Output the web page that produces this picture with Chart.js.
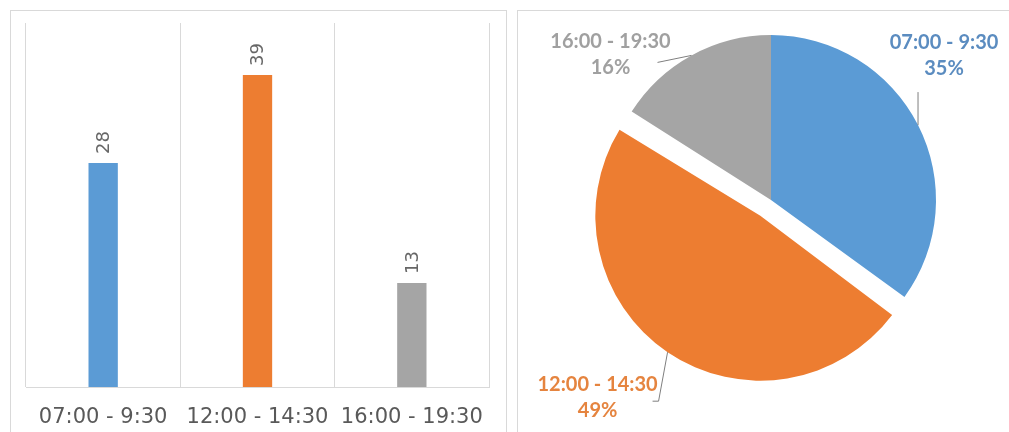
<!DOCTYPE html>
<html>
<head>
<meta charset="utf-8">
<script src="https://cdn.jsdelivr.net/npm/chart.js@4.4.1/dist/chart.umd.min.js"></script>
<style>
  html, body { margin: 0; padding: 0; background: #ffffff; width: 1009px; height: 432px; overflow: hidden; }
  .panel { position: absolute; border: 1px solid #d9d9d9; box-sizing: border-box; }
  #barWrap { left: 10px; top: 10px; width: 497px; height: 430px; }
  #pieWrap { left: 517px; top: 10px; width: 500px; height: 430px; }
  canvas { position: absolute; }
</style>
</head>
<body>
<div class="panel" id="barWrap"></div>
<div class="panel" id="pieWrap"></div>
<canvas id="bar" style="left:10px;top:10px;" width="496" height="422"></canvas>
<canvas id="pie" style="left:518px;top:10px;" width="491" height="422"></canvas>
<script>
// ---- data ----
const categories = ['07:00 - 9:30', '12:00 - 14:30', '16:00 - 19:30'];
const counts = [28, 39, 13];
const shares = [35, 49, 16];
const colors = ['#5B9BD5', '#ED7D31', '#A5A5A5'];
const labelColors = ['#5B8CC0', '#E5843F', '#A0A0A0'];

// ---- bar chart: rotated value labels ----
const barValueLabels = {
  id: 'barValueLabels',
  afterDatasetsDraw(chart) {
    const ctx = chart.ctx;
    const meta = chart.getDatasetMeta(0);
    ctx.save();
    ctx.fillStyle = '#666666';
    ctx.font = '18px "DejaVu Sans"';
    ctx.textAlign = 'left';
    ctx.textBaseline = 'middle';
    meta.data.forEach((el, i) => {
      ctx.save();
      ctx.translate(el.x, el.y - 9);
      ctx.rotate(-Math.PI / 2);
      ctx.fillText(String(counts[i]), 0, 1);
      ctx.restore();
    });
    ctx.restore();
  }
};

new Chart(document.getElementById('bar'), {
  type: 'bar',
  data: {
    labels: categories,
    datasets: [{
      data: counts,
      backgroundColor: colors,
      borderWidth: 0,
      categoryPercentage: 1,
      barPercentage: 0.19
    }]
  },
  options: {
    responsive: false,
    animation: false,
    layout: { padding: { left: 16, right: 17, top: 13, bottom: 0 } },
    plugins: { legend: { display: false }, tooltip: { enabled: false } },
    scales: {
      x: {
        grid: { color: '#d9d9d9', drawTicks: false, offset: true },
        border: { color: '#d9d9d9' },
        ticks: { color: '#595959', font: { family: 'DejaVu Sans', size: 21 }, padding: 18, maxRotation: 0 },
        afterFit: (s) => { s.height = 45; }
      },
      y: { display: false, min: 0, max: 45.5 }
    }
  },
  plugins: [barValueLabels]
});

// ---- pie chart ----
// Chart.js enlarges an offset arc's radius; keep the exploded slice the same size as the others.
function arcGeometry(arc) {
  const off = (arc.options.offset || 0) / 4;
  const fix = 1 - Math.sin(Math.min(Math.PI, arc.circumference || 0));
  return { shift: off, radiusAdd: off * fix };
}
const keepExplodedRadius = {
  id: 'keepExplodedRadius',
  afterDatasetsUpdate(chart) {
    const meta = chart.getDatasetMeta(0);
    const base = chart.options.radius;
    meta.data.forEach((arc) => {
      const g = arcGeometry(arc);
      if (g.radiusAdd) arc.outerRadius = base - g.radiusAdd;
    });
  }
};

// label placement relative to the point on each arc at its mid-angle
const pieLabelPlacement = [
  { dx: 26, dy: -70, line: [[0, 0], [0, -33]] },
  { dx: -70, dy: 45, line: [[0, 0], [-9, 49], [-15, 49]] },
  { dx: -81, dy: -1, line: [[0, 0], [-34, 7]] }
];

const pieLabels = {
  id: 'pieLabels',
  afterDatasetsDraw(chart) {
    const ctx = chart.ctx;
    const meta = chart.getDatasetMeta(0);
    ctx.save();
    meta.data.forEach((arc, i) => {
      const mid = (arc.startAngle + arc.endAngle) / 2;
      const g = arcGeometry(arc);
      const r = arc.outerRadius + g.radiusAdd;
      const cx = arc.x + Math.cos(mid) * g.shift;
      const cy = arc.y + Math.sin(mid) * g.shift;
      const px = cx + Math.cos(mid) * r;
      const py = cy + Math.sin(mid) * r;
      const p = pieLabelPlacement[i];
      ctx.strokeStyle = '#7f7f7f';
      ctx.lineWidth = 1;
      ctx.beginPath();
      p.line.forEach((pt, k) => {
        const x = px + pt[0], y = py + pt[1];
        if (k === 0) ctx.moveTo(x, y); else ctx.lineTo(x, y);
      });
      ctx.stroke();
      ctx.fillStyle = labelColors[i];
      ctx.font = 'bold 20px Lato';
      ctx.textAlign = 'center';
      ctx.textBaseline = 'middle';
      const lx = px + p.dx, ly = py + p.dy;
      ctx.fillText(categories[i], lx, ly - 13);
      ctx.fillText(shares[i] + '%', lx, ly + 13);
    });
    ctx.restore();
  }
};

new Chart(document.getElementById('pie'), {
  type: 'pie',
  data: {
    labels: categories,
    datasets: [{
      data: shares,
      backgroundColor: colors,
      borderWidth: 0,
      offset: [0, 76, 0]
    }]
  },
  options: {
    responsive: false,
    animation: false,
    radius: 165,
    layout: { padding: { left: 15, right: 0, top: 0, bottom: 42 } },
    plugins: { legend: { display: false }, tooltip: { enabled: false } }
  },
  plugins: [keepExplodedRadius, pieLabels]
});
</script>
</body>
</html>
